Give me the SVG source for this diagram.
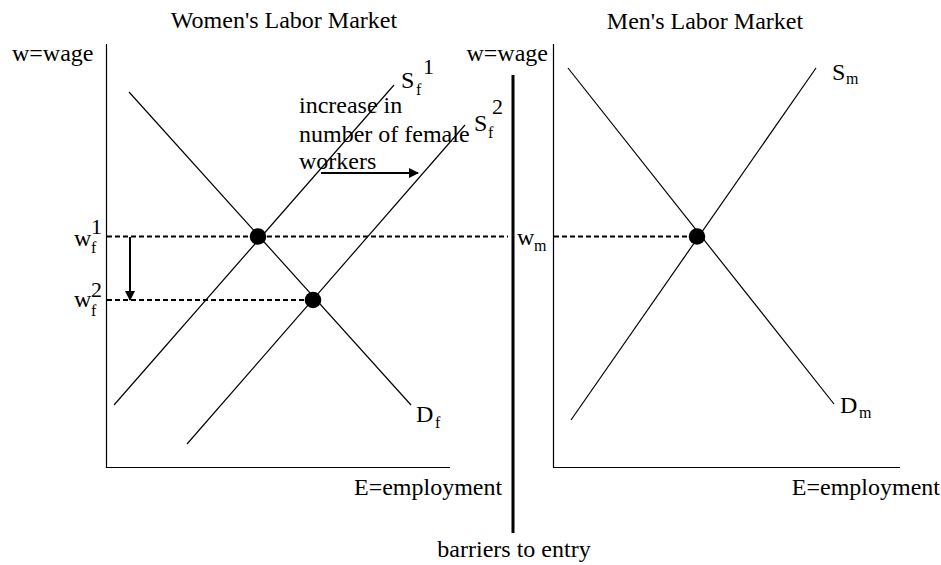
<svg xmlns="http://www.w3.org/2000/svg" width="941" height="565" viewBox="0 0 941 565">
<defs>
<style>
text{font-family:"Liberation Serif","Times New Roman",serif;fill:#000}
.t{font-size:24px}
.sub{font-size:16px}
.sup{font-size:22px}
.ax{stroke:#000;stroke-width:1.2;fill:none}
.cv{stroke:#000;stroke-width:1.2;fill:none}
.ds{stroke:#000;stroke-width:2;stroke-dasharray:5 3;fill:none}
.ar{stroke:#000;stroke-width:2;fill:none}
</style>
<marker id="ah" viewBox="0 0 10 10" refX="9" refY="5" markerWidth="10" markerHeight="10" markerUnits="userSpaceOnUse" orient="auto">
<path d="M0,0 L10,5 L0,10 z" fill="#000"/>
</marker>
</defs>
<rect width="941" height="565" fill="#fff"/>

<g id="titles">
<text class="t" x="284" y="28" text-anchor="middle">Women's Labor Market</text>
<text class="t" x="705" y="29" text-anchor="middle">Men's Labor Market</text>
</g>

<g id="women-axes">
<line class="ax" x1="106.5" y1="44" x2="106.5" y2="468"/>
<line class="ax" x1="106" y1="467.5" x2="450" y2="467.5"/>
<text class="t" x="12" y="61">w=wage</text>
<text class="t" x="354" y="495">E=employment</text>
</g>

<g id="men-axes">
<line class="ax" x1="553.5" y1="44" x2="553.5" y2="468"/>
<line class="ax" x1="553" y1="467.5" x2="900" y2="467.5"/>
<text class="t" x="548" y="61" text-anchor="end">w=wage</text>
<text class="t" x="940" y="495" text-anchor="end">E=employment</text>
</g>

<g id="barrier">
<line x1="513" y1="75" x2="513" y2="533" stroke="#000" stroke-width="3"/>
<text class="t" x="514" y="557" text-anchor="middle">barriers to entry</text>
</g>

<g id="connectors">
<line class="cv" x1="129" y1="92" x2="411" y2="405"/>
<line class="cv" x1="394" y1="85" x2="114" y2="405"/>
<line class="cv" x1="465" y1="125" x2="187" y2="444"/>
<line class="cv" x1="568" y1="68" x2="834" y2="404"/>
<line class="cv" x1="816" y1="68" x2="571" y2="420"/>
<line class="ds" x1="107" y1="236.5" x2="508" y2="236.5"/>
<line class="ds" x1="554" y1="236.5" x2="692" y2="236.5"/>
<line class="ds" x1="107" y1="300" x2="312" y2="300"/>
<line class="ar" x1="130" y1="237" x2="130" y2="300" marker-end="url(#ah)"/>
<line class="ar" x1="321" y1="173" x2="418" y2="173" marker-end="url(#ah)"/>
</g>

<g id="eq-women-1"><circle cx="258" cy="236.5" r="8.3" fill="#000"/></g>
<g id="eq-women-2"><circle cx="313" cy="300" r="8.3" fill="#000"/></g>
<g id="eq-men"><circle cx="697" cy="236.5" r="8.3" fill="#000"/></g>

<g id="label-shift">
<text class="t" x="299" y="113">increase in</text>
<text class="t" x="299" y="142">number of female</text>
<text class="t" x="299" y="169">workers</text>
</g>

<g id="label-sf1">
<text class="t" x="401" y="88">S</text>
<text class="sub" x="416" y="95">f</text>
<text class="sup" x="423" y="74">1</text>
</g>
<g id="label-sf2">
<text class="t" x="474" y="131">S</text>
<text class="sub" x="488" y="138">f</text>
<text class="sup" x="492" y="114">2</text>
</g>
<g id="label-df">
<text class="t" x="416" y="422">D</text>
<text class="sub" x="435" y="428">f</text>
</g>
<g id="label-sm">
<text class="t" x="832" y="80">S</text>
<text class="sub" x="846" y="84">m</text>
</g>
<g id="label-dm">
<text class="t" x="840" y="413">D</text>
<text class="sub" x="859" y="418">m</text>
</g>
<g id="label-wf1">
<text class="t" x="74" y="246">w</text>
<text class="sub" x="91" y="253">f</text>
<text class="sup" x="91" y="234">1</text>
</g>
<g id="label-wf2">
<text class="t" x="74" y="307">w</text>
<text class="sub" x="91" y="316">f</text>
<text class="sup" x="91" y="297">2</text>
</g>
<g id="label-wm">
<text class="t" x="517" y="245">w</text>
<text class="sub" x="534" y="251">m</text>
</g>
</svg>
